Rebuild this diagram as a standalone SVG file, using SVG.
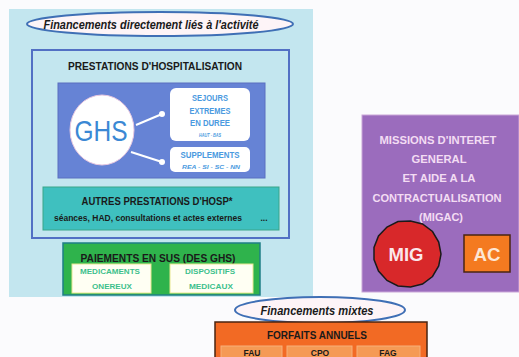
<svg xmlns="http://www.w3.org/2000/svg" width="519" height="357" viewBox="0 0 519 357">
<style>
.b{font-family:"Liberation Sans",Arial,sans-serif;font-weight:bold;text-anchor:middle}
.bi{font-family:"Liberation Sans",Arial,sans-serif;font-weight:bold;font-style:italic;text-anchor:middle}
.dk{fill:#1a1a1a}
.lb{fill:#4a9ae0}
.gt{fill:#3dbf8c}
.pw{fill:#f3dcf3}
.ell{fill:#fdf4f7;stroke:#3f6fb5;stroke-width:2}
.wl{stroke:#ffffff;stroke-width:2}
.sub{fill:#f59a55;stroke:#f7b07a;stroke-width:1}
</style>
<rect width="519" height="357" fill="#fbfbfd"/>
<g id="zone-activite">
<rect x="9" y="9" width="304" height="288" fill="#c3e6ef"/>
</g>
<g id="titre-activite">
<ellipse class="ell" cx="160" cy="24" rx="133" ry="12"/>
<text class="bi dk" x="151" y="28.5" font-size="12.5" textLength="215" lengthAdjust="spacingAndGlyphs">Financements directement liés à l'activité</text>
</g>
<g id="prestations">
<rect x="32" y="50" width="257" height="188" fill="#c3e6ef" stroke="#5270c4" stroke-width="2"/>
<text class="b dk" x="155" y="70" font-size="11" textLength="174" lengthAdjust="spacingAndGlyphs">PRESTATIONS D'HOSPITALISATION</text>
</g>
<g id="ghs-zone">
<rect x="58" y="83" width="207" height="95" fill="#6683d5" stroke="#5a6fc0" stroke-width="1"/>
</g>
<g id="connectors">
<line class="wl" x1="136" y1="125" x2="162" y2="114"/>
<circle cx="162" cy="114" r="3" fill="#ffffff"/>
<line class="wl" x1="131" y1="152" x2="162" y2="162"/>
<circle cx="162" cy="162" r="3" fill="#ffffff"/>
</g>
<g id="ghs">
<ellipse cx="102" cy="130" rx="32" ry="35" fill="#ffffff" stroke="#e8c8e0" stroke-width="1"/>
<text class="b" x="101" y="141" font-size="29" fill="#3b88d4" style="font-weight:normal" textLength="53" lengthAdjust="spacingAndGlyphs">GHS</text>
</g>
<g id="sejours">
<rect x="170" y="88" width="80" height="53" rx="6" fill="#ffffff"/>
<text class="b lb" x="210" y="101" font-size="8.5" textLength="36" lengthAdjust="spacingAndGlyphs">SEJOURS</text>
<text class="b lb" x="210" y="113.5" font-size="8.5" textLength="41" lengthAdjust="spacingAndGlyphs">EXTREMES</text>
<text class="b lb" x="210" y="126" font-size="8.5" textLength="40" lengthAdjust="spacingAndGlyphs">EN DUREE</text>
<text class="bi lb" x="210" y="136.5" font-size="5.5" textLength="22" lengthAdjust="spacingAndGlyphs">HAUT - BAS</text>
</g>
<g id="supplements">
<rect x="170" y="147" width="80" height="25" rx="5" fill="#ffffff"/>
<text class="b lb" x="210" y="157.5" font-size="8.5" textLength="59" lengthAdjust="spacingAndGlyphs">SUPPLEMENTS</text>
<text class="bi lb" x="211" y="169" font-size="6" textLength="58" lengthAdjust="spacingAndGlyphs">REA - SI - SC - NN</text>
</g>
<g id="autres">
<rect x="43" y="187" width="236" height="43" fill="#3fc0bf" stroke="#3aa58a" stroke-width="1"/>
<text class="b dk" x="157" y="205" font-size="10" textLength="151" lengthAdjust="spacingAndGlyphs">AUTRES PRESTATIONS D'HOSP*</text>
<text class="b dk" x="148" y="221" font-size="8.5" textLength="188" lengthAdjust="spacingAndGlyphs">séances, HAD, consultations et actes externes</text>
<text class="b dk" x="264" y="221" font-size="8.5">...</text>
</g>
<g id="paiements">
<rect x="63" y="243" width="197" height="52" fill="#2fb34c" stroke="#1f7f86" stroke-width="1.5"/>
<text class="b dk" x="158" y="262" font-size="10" textLength="155" lengthAdjust="spacingAndGlyphs">PAIEMENTS EN SUS (DES GHS)</text>
</g>
<g id="medicaments">
<rect x="72" y="264" width="79" height="29" fill="#fffff3" stroke="#e8e890" stroke-width="1"/>
<text class="b gt" x="110" y="274" font-size="7.5" textLength="60" lengthAdjust="spacingAndGlyphs">MEDICAMENTS</text>
<text class="b gt" x="112" y="289" font-size="7.5" textLength="40" lengthAdjust="spacingAndGlyphs">ONEREUX</text>
</g>
<g id="dispositifs">
<rect x="170" y="264" width="83" height="29" fill="#fffff3" stroke="#e8e890" stroke-width="1"/>
<text class="b gt" x="210" y="274" font-size="7.5" textLength="50" lengthAdjust="spacingAndGlyphs">DISPOSITIFS</text>
<text class="b gt" x="211" y="289" font-size="7.5" textLength="44" lengthAdjust="spacingAndGlyphs">MEDICAUX</text>
</g>
<g id="migac">
<rect x="362" y="115" width="157" height="177" fill="#9b6cbd" stroke="#c9a6d8" stroke-width="1"/>
<text class="b pw" x="438" y="144" font-size="11" textLength="117" lengthAdjust="spacingAndGlyphs">MISSIONS D'INTERET</text>
<text class="b pw" x="439" y="163" font-size="11" textLength="55" lengthAdjust="spacingAndGlyphs">GENERAL</text>
<text class="b pw" x="439" y="182" font-size="11" textLength="73" lengthAdjust="spacingAndGlyphs">ET AIDE A LA</text>
<text class="b pw" x="437" y="202" font-size="11" textLength="129" lengthAdjust="spacingAndGlyphs">CONTRACTUALISATION</text>
<text class="b pw" x="441" y="221" font-size="11" textLength="44" lengthAdjust="spacingAndGlyphs">(MIGAC)</text>
</g>
<g id="mig">
<polygon points="441,254 438.7,266 432.5,276.5 422.5,284 410.5,287 398,286 387,280.5 378.5,271 374,259.5 374,247.5 378.5,236 387,227 398,221.5 410.5,221 422.5,224 432.5,231.5 438.7,242" fill="#d8282a" stroke="#1a1a1a" stroke-width="1.5"/>
<text class="b" x="406" y="261" font-size="19" fill="#fbe6ea" textLength="35" lengthAdjust="spacingAndGlyphs">MIG</text>
</g>
<g id="ac">
<rect x="464" y="235" width="46" height="37" fill="#f47a20" stroke="#4a2410" stroke-width="1.5"/>
<text class="b" x="487" y="261" font-size="18" fill="#fde6d4" textLength="27" lengthAdjust="spacingAndGlyphs">AC</text>
</g>
<g id="titre-mixtes">
<ellipse class="ell" cx="320" cy="310" rx="85" ry="13"/>
<text class="bi dk" x="317" y="314.5" font-size="12" textLength="113" lengthAdjust="spacingAndGlyphs">Financements mixtes</text>
</g>
<g id="forfaits">
<rect x="215" y="322" width="212" height="40" fill="#f26a24" stroke="#4a2410" stroke-width="1.5"/>
<text class="b dk" x="317" y="339" font-size="10" textLength="100" lengthAdjust="spacingAndGlyphs">FORFAITS ANNUELS</text>
</g>
<g id="fau">
<rect class="sub" x="221" y="346" width="61" height="14"/>
<text class="b dk" x="252" y="356" font-size="8.5">FAU</text>
</g>
<g id="cpo">
<rect class="sub" x="287" y="346" width="65" height="14"/>
<text class="b dk" x="320" y="356" font-size="8.5">CPO</text>
</g>
<g id="fag">
<rect class="sub" x="357" y="346" width="63" height="14"/>
<text class="b dk" x="388" y="356" font-size="8.5">FAG</text>
</g>
</svg>
